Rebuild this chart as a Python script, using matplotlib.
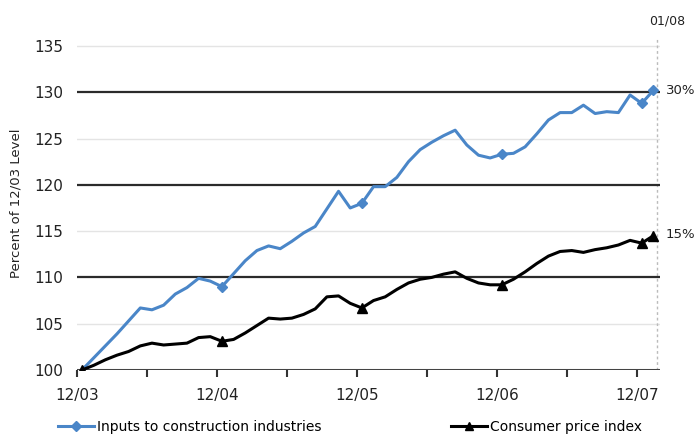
import numpy as np
import matplotlib
matplotlib.use('Agg')
import matplotlib.pyplot as plt
from matplotlib.lines import Line2D

# monthly index levels, 12/03 = 100, through 01/08
inputs = [100.0, 101.3, 102.6, 103.9, 105.3, 106.7, 106.5, 107.0, 108.2, 108.9,
          109.9, 109.6, 109.0, 110.4, 111.8, 112.9, 113.4, 113.1, 113.9, 114.8,
          115.5, 117.4, 119.3, 117.5, 118.0, 119.8, 119.8, 120.8, 122.5, 123.8,
          124.6, 125.3, 125.9, 124.3, 123.2, 122.9, 123.3, 123.4, 124.1, 125.5,
          127.0, 127.8, 127.8, 128.6, 127.7, 127.9, 127.8, 129.7, 128.8, 130.2]
cpi = [100.0, 100.5, 101.1, 101.6, 102.0, 102.6, 102.9, 102.7, 102.8, 102.9,
       103.5, 103.6, 103.1, 103.3, 104.0, 104.8, 105.6, 105.5, 105.6, 106.0,
       106.6, 107.9, 108.0, 107.2, 106.7, 107.5, 107.9, 108.7, 109.4, 109.8,
       110.0, 110.35, 110.6, 109.9, 109.4, 109.2, 109.2, 109.8, 110.6, 111.5,
       112.3, 112.8, 112.9, 112.7, 113.0, 113.2, 113.5, 114.0, 113.7, 114.5]
marked = [0, 12, 24, 36, 48, 49]
year_labels = ['12/03', '12/04', '12/05', '12/06', '12/07']
end_labels = ['30%', '15%']
end_date = '01/08'

blue = '#4a86c8'
months = np.arange(len(inputs))

fig = plt.figure(figsize=(6.96, 4.36), dpi=100)
ax = fig.add_axes([0.1106, 0.1514, 0.8374, 0.7645])

for y in [105, 115, 125, 135]:
    ax.axhline(y, color='#e4e4e4', lw=1, zorder=0)
for y in [110, 120, 130]:
    ax.axhline(y, color='#2b2b2b', lw=1.6, zorder=1)
ax.axhline(100, color='#444444', lw=2.2, zorder=1)
ax.axvline(49.27, color='#bbbbbb', lw=1, ls=(0, (2, 2)), zorder=0)

ax.plot(months, inputs, color=blue, lw=2.2, marker='D', ms=5,
        markevery=marked[1:], zorder=3)
ax.plot(months, cpi, color='black', lw=2.2, marker='^', ms=7,
        markevery=marked, zorder=4)

ax.set_xlim(-0.43, 49.55)
ax.set_ylim(100, 136)
ax.set_yticks(range(100, 136, 5))
ax.set_xticks([6 * k - 0.43 for k in range(9)])
ax.set_xticklabels([year_labels[k // 2] if k % 2 == 0 else '' for k in range(9)])
ax.tick_params(axis='x', length=5, width=1.5, color='#333333', labelsize=11,
               pad=8, labelcolor='#222222')
ax.tick_params(axis='y', length=0, labelsize=11, pad=10, labelcolor='#222222')
for s in ax.spines.values():
    s.set_visible(False)

ax.set_ylabel('Percent of 12/03 Level', fontsize=9.5, color='#222222', labelpad=8)

ax.text(1.01, (inputs[-1] - 100) / 36, end_labels[0], transform=ax.transAxes,
        fontsize=9.5, va='center', color='#222222')
ax.text(1.01, (cpi[-1] - 100) / 36 + 0.003, end_labels[1], transform=ax.transAxes,
        fontsize=9.5, va='center', color='#222222')
fig.text(0.958, 0.952, end_date, fontsize=9, ha='center', va='center', color='#222222')

h1 = Line2D([], [], color=blue, lw=2.2, marker='D', ms=5)
h2 = Line2D([], [], color='black', lw=2.2, marker='^', ms=6)
fig.legend([h1], ['Inputs to construction industries'], loc='center left',
           bbox_to_anchor=(0.065, 0.02), frameon=False, fontsize=10,
           handlelength=2.6, handletextpad=0.2)
fig.legend([h2], ['Consumer price index'], loc='center left',
           bbox_to_anchor=(0.63, 0.02), frameon=False, fontsize=10,
           handlelength=2.6, handletextpad=0.2)

plt.savefig('out.png', dpi=100)
